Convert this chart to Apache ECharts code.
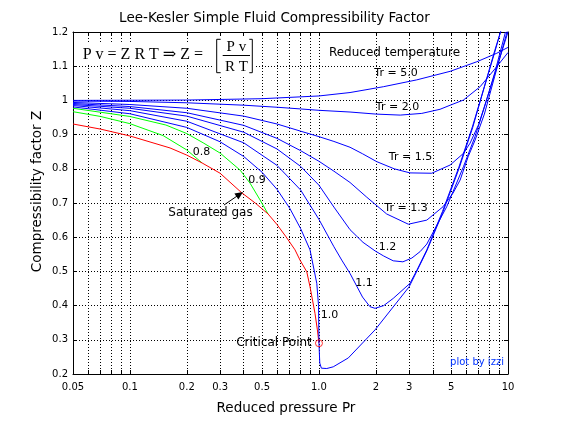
<!DOCTYPE html>
<html><head><meta charset="utf-8">
<script src="https://cdn.jsdelivr.net/npm/echarts@6/dist/echarts.min.js"></script>
<style>html,body{margin:0;padding:0;background:#fff}#c{width:564px;height:423px}</style>
</head><body><div id="c"></div>
<script>
// ---- data (reduced pressure Pr, compressibility factor Z) ----
const prTr08 = [0.05,0.07,0.1,0.15,0.2,0.241];
const zTr08  = [0.967,0.953,0.932,0.897,0.855,0.817];
const prTr09 = [0.05,0.1,0.155,0.2,0.244,0.3,0.383,0.432,0.488,0.538];
const zTr09  = [0.977,0.953,0.928,0.903,0.876,0.846,0.796,0.758,0.709,0.668];
const prSat  = [0.05,0.07,0.1,0.163,0.2,0.241,0.3,0.39,0.46,0.538,0.6,0.67,0.747,0.794,0.862,0.897,0.953,0.981,1.0];
const zSat   = [0.931,0.916,0.896,0.861,0.840,0.817,0.787,0.730,0.700,0.668,0.637,0.601,0.563,0.533,0.499,0.455,0.377,0.329,0.29];
const prTr10 = [0.05,0.1,0.2,0.3,0.4,0.5,0.6,0.7,0.8,0.897,0.974,0.995,1.0,1.01,1.03,1.1,1.19,1.43,1.98,3.0,3.72,4.5,5.5,6.5,7.5,8.5,9.5];
const zTr10  = [0.981,0.961,0.921,0.879,0.836,0.790,0.740,0.685,0.625,0.563,0.465,0.40,0.29,0.232,0.217,0.216,0.221,0.247,0.329,0.455,0.56,0.67,0.80,0.92,1.04,1.14,1.235];
const prTr11 = [0.05,0.1,0.2,0.4,0.6,0.8,1.0,1.2,1.32,1.46,1.7,1.86,1.98,2.2,2.47,3.03,3.3,3.72,4.5,5.5,6.5,7.5,8.5,9.5];
const zTr11  = [0.985,0.970,0.939,0.876,0.810,0.738,0.652,0.572,0.533,0.494,0.425,0.397,0.392,0.400,0.421,0.465,0.504,0.563,0.675,0.805,0.925,1.04,1.145,1.23];
const prTr12 = [0.05,0.1,0.2,0.4,0.6,0.8,1.0,1.2,1.46,1.71,1.98,2.2,2.47,2.78,3.1,3.43,3.72,4.74,5.81,6.7,7.5,8.5,9.7];
const zTr12  = [0.988,0.977,0.954,0.907,0.858,0.807,0.752,0.688,0.622,0.585,0.560,0.545,0.531,0.528,0.539,0.558,0.580,0.689,0.806,0.895,0.98,1.08,1.2];
const prTr13 = [0.05,0.1,0.2,0.4,0.6,0.8,1.0,1.2,1.46,1.79,2.28,2.97,3.72,4.53,5.12,5.58,6.15,6.7,7.5,8.5,10];
const zTr13  = [0.991,0.982,0.964,0.927,0.889,0.853,0.822,0.793,0.760,0.717,0.668,0.638,0.650,0.689,0.729,0.767,0.835,0.884,0.96,1.07,1.21];
const prTr15 = [0.05,0.1,0.2,0.4,0.6,0.8,1.0,1.2,1.46,1.7,2.02,2.5,3.03,3.95,4.94,5.81,6.3,7.0,8.0,9.0,10];
const zTr15  = [0.994,0.988,0.977,0.954,0.931,0.910,0.894,0.880,0.863,0.844,0.821,0.800,0.788,0.787,0.811,0.845,0.875,0.93,1.03,1.12,1.2];
const prTr20 = [0.05,0.1,0.2,0.4,0.6,0.8,1.0,1.46,2.0,2.69,3.5,4.37,5.0,5.81,7.12,8.73,10];
const zTr20  = [0.998,0.997,0.993,0.986,0.980,0.975,0.971,0.966,0.960,0.957,0.962,0.974,0.987,1.001,1.040,1.099,1.14];
const prTr50 = [0.05,0.2,0.5,1.0,1.46,2.19,3.29,4.94,6.84,8.73,10];
const zTr50  = [1.000,1.001,1.005,1.013,1.023,1.040,1.060,1.085,1.113,1.138,1.155];
const criticalPoint = [1.0, 0.29];

const xTickVals  = [0.05,0.06,0.07,0.08,0.09,0.1,0.2,0.3,0.4,0.5,0.6,0.7,0.8,0.9,1,2,3,4,5,6,7,8,9,10];
const xLabelVals = [0.05,0.1,0.2,0.3,0.5,1,2,3,5,10];
const xLabelText = ['0.05','0.1','0.2','0.3','0.5','1.0','2','3','5','10'];

// ---- chart ----
const chart = echarts.init(document.getElementById('c'), null, {renderer:'canvas'});
const pairs = (xs, ys) => xs.map((x, i) => [x, ys[i]]);
const FONT = '"DejaVu Sans"';
const SERIF = '"Liberation Serif", "DejaVu Serif", serif';
const black = '#000';
const dotted = {color: black, width: 1, type: [1, 2]};

function xAxisDef(pos, main) {
  return {
    type: 'log', logBase: 10, min: 0.05, max: 10, position: pos,
    axisLine: {show: true, onZero: false, lineStyle: {color: black, width: 1}},
    axisTick: {show: true, inside: true, length: 4, customValues: xTickVals, lineStyle: {color: black}},
    axisLabel: main ? {
      show: true, customValues: xLabelVals, color: black, fontFamily: FONT, fontSize: 10, margin: 8,
      formatter: function (v) {
        const i = xLabelVals.findIndex(t => Math.abs(t - v) / t < 1e-6);
        return i >= 0 ? xLabelText[i] : '';
      }
    } : {show: false},
    splitLine: {show: main, lineStyle: dotted},
    minorTick: {show: false}, minorSplitLine: {show: false}
  };
}
function yAxisDef(pos, main) {
  return {
    type: 'value', min: 0.2, max: 1.2, interval: 0.1, position: pos,
    axisLine: {show: true, onZero: false, lineStyle: {color: black, width: 1}},
    axisTick: {show: true, inside: true, length: 4, lineStyle: {color: black}},
    axisLabel: main ? {show: true, color: black, fontFamily: FONT, fontSize: 10, margin: 5} : {show: false},
    splitLine: {show: main, lineStyle: dotted}
  };
}
function curve(name, xs, ys, color) {
  return {
    name, type: 'line', data: pairs(xs, ys), showSymbol: false, symbol: 'none',
    lineStyle: {color, width: 1}, itemStyle: {color}, clip: true, silent: true, z: 3
  };
}
function T(text, x, y, size, o) {
  o = o || {};
  return {
    type: 'text', x, y, silent: true, z: 100, rotation: o.rot || 0,
    style: {text, fill: o.fill || black, font: size + 'px ' + (o.family || FONT),
            align: o.align || 'center', verticalAlign: 'middle'}
  };
}

const option = {
  animation: false,
  backgroundColor: '#fff',
  grid: {left: 73, right: 56, top: 32, bottom: 49},
  xAxis: [xAxisDef('bottom', true), xAxisDef('top', false)],
  yAxis: [yAxisDef('left', true), yAxisDef('right', false)],
  series: [
    curve('Tr=0.8', prTr08, zTr08, '#00ff00'),
    curve('Tr=0.9', prTr09, zTr09, '#00ff00'),
    curve('Saturated gas', prSat, zSat, '#ff0000'),
    curve('Tr=1.0', prTr10, zTr10, '#0000ff'),
    curve('Tr=1.1', prTr11, zTr11, '#0000ff'),
    curve('Tr=1.2', prTr12, zTr12, '#0000ff'),
    curve('Tr=1.3', prTr13, zTr13, '#0000ff'),
    curve('Tr=1.5', prTr15, zTr15, '#0000ff'),
    curve('Tr=2.0', prTr20, zTr20, '#0000ff'),
    curve('Tr=5.0', prTr50, zTr50, '#0000ff'),
    {
      name: 'Critical Point', type: 'scatter', data: [criticalPoint], symbol: 'circle', symbolSize: 7,
      itemStyle: {color: 'rgba(0,0,0,0)', borderColor: '#ff0000', borderWidth: 1}, z: 5, silent: true, clip: false
    }
  ],
  graphic: [
    T('Lee-Kesler Simple Fluid Compressibility Factor', 274.5, 18, 13.5),
    T('Reduced pressure Pr', 286, 408, 13.5),
    T('Compressibility factor Z', 37, 191.5, 13.5, {rot: Math.PI / 2}),
    {type: 'rect', shape: {x: 79, y: 44, width: 134, height: 19}, style: {fill: '#fff'}, z: 90, silent: true},
    {type: 'rect', shape: {x: 213, y: 37, width: 43, height: 39}, style: {fill: '#fff'}, z: 90, silent: true},
    T('P v = Z R T \u21D2 Z =', 82.7, 54.3, 16, {family: SERIF, align: 'left'}),
    {type: 'polyline', shape: {points: [[220.7, 39.3], [216.7, 39.3], [216.7, 72.7], [220.7, 72.7]]},
     style: {stroke: black, lineWidth: 1, fill: null}, z: 100, silent: true},
    {type: 'polyline', shape: {points: [[249.3, 39.3], [252.3, 39.3], [252.3, 72.7], [249.3, 72.7]]},
     style: {stroke: black, lineWidth: 1, fill: null}, z: 100, silent: true},
    {type: 'line', shape: {x1: 222.7, y1: 55.5, x2: 250, y2: 55.5}, style: {stroke: black, lineWidth: 1}, z: 100, silent: true},
    T('P v', 236.4, 47.5, 15, {family: SERIF}),
    T('R T', 236.4, 67.2, 15, {family: SERIF}),
    T('Reduced temperature', 394.5, 53, 12),
    T('Tr = 5.0', 396, 73, 11),
    T('Tr = 2.0', 397.5, 107.5, 11),
    T('Tr = 1.5', 410.5, 157.5, 11),
    T('Tr = 1.3', 406, 208.5, 11),
    T('1.2', 387.5, 247, 11),
    T('1.1', 364, 283, 11),
    T('1.0', 329.5, 315, 11),
    T('0.9', 257, 180, 11),
    T('0.8', 201.5, 152, 11),
    T('Saturated gas', 210.5, 213, 12),
    T('Critical Point', 274, 343, 12),
    T('plot by izzi', 477, 362.5, 10, {fill: '#0033ff'}),
    {type: 'line', shape: {x1: 224, y1: 205, x2: 238, y2: 195.4}, style: {stroke: black, lineWidth: 1}, z: 100, silent: true},
    {type: 'polygon', shape: {points: [[243, 192], [238.4, 199.4], [234.4, 193.6]]}, style: {fill: black}, z: 100, silent: true}
  ]
};
chart.setOption(option);
</script>
</body></html>
